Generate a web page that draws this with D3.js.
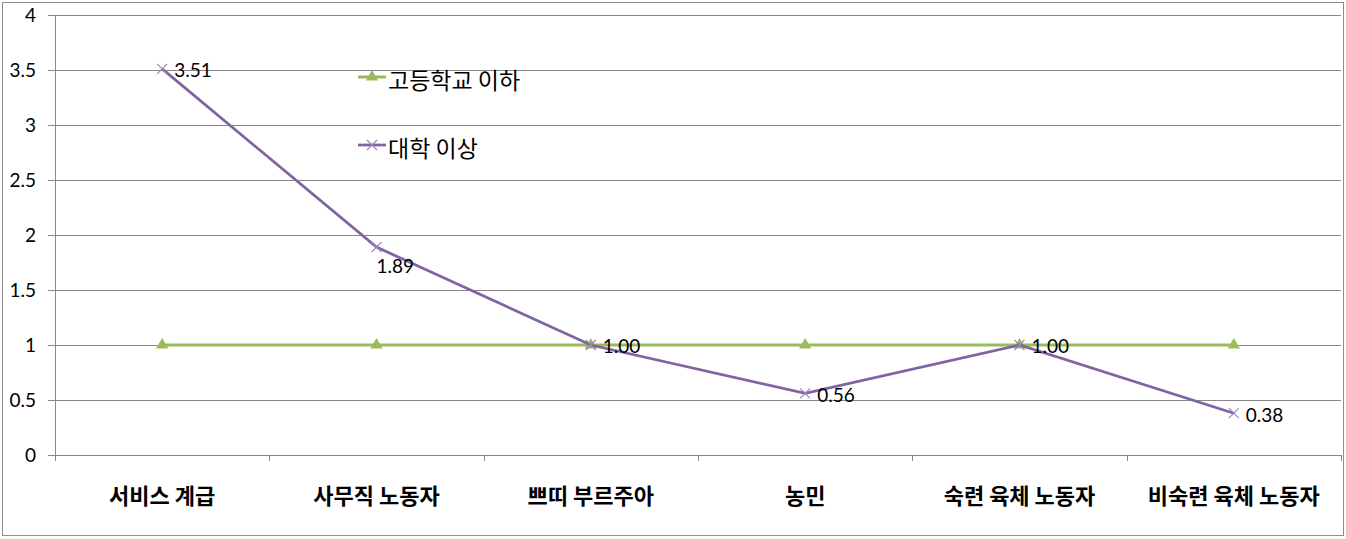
<!DOCTYPE html>
<html><head><meta charset="utf-8">
<script src="https://cdn.jsdelivr.net/npm/d3@7"></script>
<style>body{margin:0;background:#fff}svg{display:block}</style>
</head><body>
<script>
const categories = ["서비스 계급","사무직 노동자","쁘띠 부르주아","농민","숙련 육체 노동자","비숙련 육체 노동자"];
const highSchool = [1,1,1,1,1,1];
const college = [3.51,1.89,1.00,0.56,1.00,0.38];
const collegeLabels = ["3.51","1.89","1.00","0.56","1.00","0.38"];
const yTicks = [0,0.5,1,1.5,2,2.5,3,3.5,4];
const seriesNames = ["고등학교 이하","대학 이상"];

const W=1346,H=539;
const svg=d3.select("body").append("svg").attr("width",W).attr("height",H);
svg.append("rect").attr("x",2.5).attr("y",2.5).attr("width",W-5).attr("height",H-6)
  .attr("fill","#fff").attr("stroke","#8c8c8c");

const L=55,R=1341,T=15,B=455;
const x=d3.scaleBand().domain(categories).range([L,R]);
const y=d3.scaleLinear().domain([0,4]).range([B,T]);
const numFont="Lato, 'Noto Sans CJK KR', sans-serif";
const kFont="'Noto Sans CJK KR', sans-serif";

// gridlines
svg.append("g").selectAll("line").data(yTicks).join("line")
  .attr("x1",L-7).attr("x2",R).attr("y1",d=>Math.round(y(d))+0.5).attr("y2",d=>Math.round(y(d))+0.5)
  .attr("stroke","#888").attr("stroke-width",1);
// y labels
svg.append("g").selectAll("text").data(yTicks).join("text")
  .attr("x",36).attr("y",d=>y(d)).attr("dy","0.35em").attr("text-anchor","end")
  .attr("font-family",numFont).attr("font-size",19).attr("fill","#000").text(d=>d);
// y axis line
svg.append("line").attr("x1",L+0.5).attr("x2",L+0.5).attr("y1",T).attr("y2",B).attr("stroke","#888");
// x category ticks
const bounds=categories.map(c=>x(c)).concat([R]);
svg.append("g").selectAll("line").data(bounds).join("line")
  .attr("x1",d=>Math.round(d)+0.5).attr("x2",d=>Math.round(d)+0.5).attr("y1",B).attr("y2",B+6)
  .attr("stroke","#888");
// x labels
svg.append("g").selectAll("text").data(categories).join("text")
  .attr("x",d=>x(d)+x.bandwidth()/2).attr("y",496).attr("dy","0.35em").attr("text-anchor","middle")
  .attr("font-family",kFont).attr("font-weight","bold").attr("font-size",22).attr("fill","#000").text(d=>d);

const cx=i=>x(categories[i])+x.bandwidth()/2;
const line=d3.line().x((d,i)=>cx(i)).y(d=>y(d));
const green="#9bbb59", purple="#8064a2";

svg.append("path").datum(highSchool).attr("d",line).attr("fill","none").attr("stroke",green).attr("stroke-width",3);
const tri=d3.symbol().type(d3.symbolTriangle).size(65);
svg.append("g").selectAll("path").data(highSchool).join("path")
  .attr("transform",(d,i)=>`translate(${cx(i)},${y(d)})`).attr("d",tri).attr("fill",green);

svg.append("path").datum(college).attr("d",line).attr("fill","none").attr("stroke",purple).attr("stroke-width",2.75);
function xmark(g,px,py,s){
  g.append("path").attr("d",`M${px-s},${py-s}L${px+s},${py+s}M${px-s},${py+s}L${px+s},${py-s}`)
    .attr("stroke","#9b86b8").attr("stroke-width",1.2).attr("fill","none");
}
const mg=svg.append("g");
college.forEach((d,i)=>xmark(mg,cx(i),y(d),5));

// data labels
const lblOff=[[12,1],[0,19],[12,1],[12,2],[12,1],[12,2]];
svg.append("g").selectAll("text").data(college).join("text")
  .attr("x",(d,i)=>cx(i)+lblOff[i][0]).attr("y",(d,i)=>y(d)+lblOff[i][1]).attr("dy","0.35em")
  .attr("font-family",numFont).attr("font-size",19).attr("fill","#000").text((d,i)=>collegeLabels[i]);

// legend
const lg=svg.append("g");
const legY=[77,145], legC=[green,purple];
seriesNames.forEach((n,i)=>{
  lg.append("line").attr("x1",358).attr("x2",386).attr("y1",legY[i]).attr("y2",legY[i])
    .attr("stroke",legC[i]).attr("stroke-width",i===0?3:2.75);
  if(i===0) lg.append("path").attr("transform",`translate(372,${legY[i]})`).attr("d",tri).attr("fill",green);
  else xmark(lg,372,legY[i],5);
  lg.append("text").attr("x",388).attr("y",legY[i]+4).attr("dy","0.35em")
    .attr("font-family",kFont).attr("font-size",23).attr("fill","#000").text(n);
});
</script>
</body></html>
